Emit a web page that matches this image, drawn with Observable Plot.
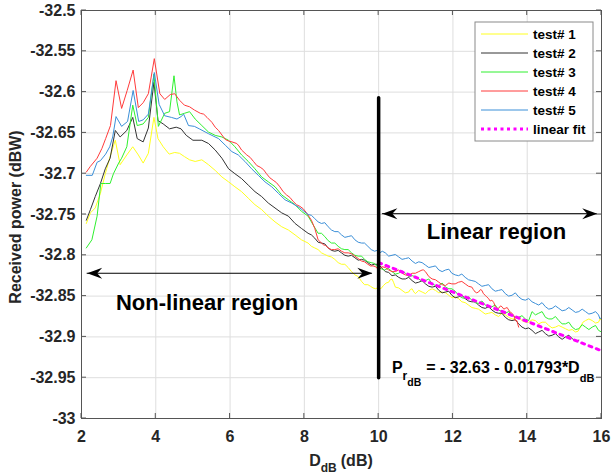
<!DOCTYPE html>
<html><head><meta charset="utf-8">
<script src="https://cdn.jsdelivr.net/npm/d3@7"></script>
<script src="https://cdn.jsdelivr.net/npm/@observablehq/plot@0.6"></script>
<style>
body{margin:0;background:#fff;font-family:"Liberation Sans",Arial,sans-serif;}
#chart{width:613px;height:474px;}
</style>
</head><body><div id="chart"></div>
<script>
const seriesNames = ["test# 1","test# 2","test# 3","test# 4","test# 5"];
const seriesColors = ["#ffff1f","#333333","#2ff02f","#ff3b3b","#3b8fd8"];
const fitColor = "#ff00ff";

const test1 = [[2.13,-32.761],[2.24,-32.748],[2.37,-32.742],[2.51,-32.724],[2.64,-32.700],[2.77,-32.679],[2.91,-32.659],[3.04,-32.689],[3.22,-32.677],[3.38,-32.667],[3.53,-32.677],[3.66,-32.687],[3.80,-32.675],[3.95,-32.631],[4.06,-32.657],[4.20,-32.667],[4.36,-32.676],[4.51,-32.674],[4.64,-32.675],[4.77,-32.679],[4.91,-32.683],[5.06,-32.685],[5.24,-32.683],[5.42,-32.689],[5.60,-32.696],[5.78,-32.704],[5.96,-32.710],[6.13,-32.716],[6.31,-32.722],[6.49,-32.730],[6.67,-32.738],[6.85,-32.744],[7.03,-32.752],[7.21,-32.759],[7.39,-32.765],[7.57,-32.769],[7.75,-32.775],[7.92,-32.781],[8.10,-32.785],[8.19,-32.789],[8.28,-32.791],[8.37,-32.793],[8.46,-32.797],[8.55,-32.799],[8.64,-32.801],[8.73,-32.802],[8.82,-32.805],[8.91,-32.809],[9.00,-32.811],[9.09,-32.811],[9.18,-32.815],[9.27,-32.820],[9.36,-32.824],[9.45,-32.826],[9.54,-32.832],[9.62,-32.836],[9.71,-32.836],[9.78,-32.838],[9.85,-32.840],[9.92,-32.841],[10.0,-32.839],[10.06,-32.841],[10.13,-32.837],[10.20,-32.834],[10.27,-32.833],[10.31,-32.830],[10.36,-32.829],[10.40,-32.833],[10.45,-32.839],[10.54,-32.840],[10.63,-32.843],[10.72,-32.846],[10.81,-32.845],[10.85,-32.842],[10.90,-32.841],[10.95,-32.845],[10.99,-32.847],[11.08,-32.843],[11.17,-32.845],[11.26,-32.847],[11.35,-32.843],[11.44,-32.841],[11.53,-32.843],[11.62,-32.846],[11.71,-32.845],[11.80,-32.846],[11.89,-32.849],[11.97,-32.852],[12.06,-32.851],[12.15,-32.853],[12.24,-32.857],[12.33,-32.858],[12.42,-32.861],[12.51,-32.864],[12.60,-32.865],[12.69,-32.866],[12.78,-32.869],[12.87,-32.872],[12.96,-32.871],[13.05,-32.870],[13.14,-32.873],[13.23,-32.875],[13.32,-32.871],[13.41,-32.873],[13.50,-32.876],[13.59,-32.878],[13.68,-32.878],[13.77,-32.876],[13.86,-32.880],[13.95,-32.882],[14.04,-32.882],[14.13,-32.879],[14.22,-32.880],[14.31,-32.884],[14.40,-32.882],[14.49,-32.882],[14.58,-32.886],[14.67,-32.889],[14.76,-32.888],[14.85,-32.886],[14.94,-32.888],[15.03,-32.890],[15.12,-32.892],[15.21,-32.891],[15.30,-32.894],[15.37,-32.893],[15.43,-32.888],[15.50,-32.882],[15.57,-32.880],[15.66,-32.878],[15.75,-32.880],[15.84,-32.883],[15.92,-32.882],[15.96,-32.878],[16.0,-32.880]];

const test2 = [[2.13,-32.757],[2.24,-32.744],[2.37,-32.728],[2.51,-32.712],[2.64,-32.694],[2.77,-32.681],[2.91,-32.647],[3.04,-32.655],[3.22,-32.647],[3.38,-32.631],[3.50,-32.657],[3.66,-32.661],[3.80,-32.644],[3.95,-32.588],[4.06,-32.635],[4.20,-32.639],[4.37,-32.645],[4.55,-32.643],[4.68,-32.645],[4.82,-32.653],[5.00,-32.659],[5.24,-32.659],[5.42,-32.663],[5.60,-32.671],[5.78,-32.681],[5.96,-32.694],[6.13,-32.700],[6.31,-32.706],[6.49,-32.714],[6.67,-32.722],[6.85,-32.728],[7.03,-32.736],[7.21,-32.742],[7.39,-32.748],[7.57,-32.752],[7.75,-32.761],[7.92,-32.767],[8.10,-32.773],[8.19,-32.775],[8.28,-32.779],[8.37,-32.784],[8.46,-32.785],[8.55,-32.786],[8.64,-32.791],[8.73,-32.794],[8.82,-32.795],[8.91,-32.794],[9.00,-32.797],[9.09,-32.800],[9.18,-32.801],[9.27,-32.800],[9.36,-32.803],[9.45,-32.806],[9.54,-32.805],[9.62,-32.806],[9.71,-32.809],[9.80,-32.812],[9.89,-32.811],[9.96,-32.811],[10.03,-32.813],[10.10,-32.816],[10.18,-32.820],[10.27,-32.821],[10.36,-32.825],[10.45,-32.824],[10.54,-32.827],[10.63,-32.829],[10.72,-32.829],[10.81,-32.827],[10.90,-32.831],[10.99,-32.834],[11.08,-32.833],[11.17,-32.831],[11.26,-32.835],[11.35,-32.838],[11.44,-32.839],[11.53,-32.838],[11.62,-32.843],[11.71,-32.846],[11.80,-32.845],[11.89,-32.844],[11.97,-32.849],[12.06,-32.852],[12.15,-32.851],[12.24,-32.849],[12.33,-32.853],[12.42,-32.856],[12.51,-32.857],[12.60,-32.857],[12.69,-32.861],[12.78,-32.864],[12.87,-32.865],[12.96,-32.863],[13.05,-32.867],[13.14,-32.870],[13.23,-32.871],[13.32,-32.871],[13.41,-32.876],[13.50,-32.879],[13.59,-32.880],[13.68,-32.879],[13.77,-32.884],[13.86,-32.888],[13.95,-32.890],[14.04,-32.889],[14.13,-32.892],[14.22,-32.896],[14.31,-32.894],[14.40,-32.892],[14.49,-32.896],[14.58,-32.899],[14.67,-32.898],[14.76,-32.896],[14.85,-32.900],[14.94,-32.903],[15.03,-32.900],[15.12,-32.898],[15.21,-32.902],[15.30,-32.905],[15.39,-32.904]];

const test3 = [[2.13,-32.791],[2.28,-32.781],[2.42,-32.752],[2.52,-32.712],[2.64,-32.712],[2.77,-32.712],[2.86,-32.700],[3.00,-32.687],[3.08,-32.681],[3.22,-32.667],[3.38,-32.616],[3.50,-32.641],[3.66,-32.639],[3.80,-32.631],[3.95,-32.578],[4.07,-32.642],[4.24,-32.626],[4.37,-32.624],[4.49,-32.580],[4.57,-32.612],[4.64,-32.628],[4.77,-32.626],[4.91,-32.624],[5.06,-32.633],[5.24,-32.641],[5.42,-32.649],[5.60,-32.653],[5.78,-32.655],[5.96,-32.659],[6.13,-32.667],[6.31,-32.677],[6.49,-32.685],[6.67,-32.694],[6.85,-32.704],[7.03,-32.710],[7.21,-32.716],[7.39,-32.726],[7.57,-32.732],[7.75,-32.738],[7.92,-32.746],[8.10,-32.752],[8.24,-32.763],[8.37,-32.773],[8.46,-32.773],[8.55,-32.777],[8.64,-32.782],[8.73,-32.785],[8.82,-32.785],[8.91,-32.789],[9.00,-32.792],[9.09,-32.793],[9.18,-32.793],[9.27,-32.797],[9.36,-32.800],[9.45,-32.801],[9.54,-32.801],[9.62,-32.805],[9.71,-32.808],[9.80,-32.809],[9.89,-32.810],[9.98,-32.815],[10.16,-32.818],[10.26,-32.816],[10.36,-32.820],[10.45,-32.823],[10.54,-32.822],[10.63,-32.819],[10.72,-32.822],[10.81,-32.826],[10.90,-32.825],[10.99,-32.826],[11.08,-32.829],[11.17,-32.832],[11.26,-32.831],[11.35,-32.829],[11.44,-32.835],[11.53,-32.837],[11.62,-32.837],[11.71,-32.834],[11.80,-32.839],[11.89,-32.841],[11.97,-32.841],[12.06,-32.844],[12.15,-32.849],[12.24,-32.852],[12.33,-32.853],[12.42,-32.851],[12.51,-32.855],[12.60,-32.858],[12.69,-32.859],[12.78,-32.856],[12.87,-32.861],[12.96,-32.864],[13.05,-32.863],[13.14,-32.861],[13.23,-32.867],[13.32,-32.869],[13.41,-32.871],[13.50,-32.869],[13.59,-32.873],[13.68,-32.876],[13.77,-32.876],[13.86,-32.874],[13.95,-32.878],[14.04,-32.880],[14.13,-32.869],[14.22,-32.873],[14.31,-32.871],[14.40,-32.869],[14.49,-32.876],[14.58,-32.878],[14.67,-32.878],[14.76,-32.875],[14.85,-32.880],[14.94,-32.884],[15.03,-32.884],[15.12,-32.882],[15.21,-32.888],[15.30,-32.891],[15.39,-32.890],[15.48,-32.885],[15.57,-32.888],[15.66,-32.891],[15.75,-32.888],[15.84,-32.886],[15.92,-32.892],[15.96,-32.893],[16.0,-32.894]];

const test4 = [[2.13,-32.698],[2.24,-32.691],[2.42,-32.681],[2.55,-32.669],[2.65,-32.657],[2.78,-32.641],[2.93,-32.586],[3.08,-32.620],[3.23,-32.598],[3.39,-32.573],[3.53,-32.619],[3.66,-32.613],[3.80,-32.602],[3.96,-32.559],[4.11,-32.602],[4.24,-32.609],[4.39,-32.603],[4.51,-32.602],[4.64,-32.610],[4.77,-32.616],[4.91,-32.618],[5.04,-32.622],[5.20,-32.626],[5.29,-32.627],[5.38,-32.631],[5.51,-32.637],[5.60,-32.643],[5.69,-32.647],[5.87,-32.658],[5.96,-32.660],[6.05,-32.661],[6.18,-32.663],[6.24,-32.666],[6.31,-32.671],[6.45,-32.677],[6.54,-32.680],[6.63,-32.685],[6.72,-32.690],[6.81,-32.692],[6.90,-32.695],[6.98,-32.700],[7.07,-32.705],[7.16,-32.708],[7.25,-32.711],[7.34,-32.716],[7.43,-32.722],[7.52,-32.726],[7.61,-32.729],[7.70,-32.734],[7.79,-32.738],[7.88,-32.740],[7.97,-32.743],[8.06,-32.748],[8.19,-32.757],[8.28,-32.767],[8.37,-32.781],[8.51,-32.787],[8.57,-32.788],[8.64,-32.791],[8.73,-32.793],[8.82,-32.793],[8.91,-32.792],[9.00,-32.795],[9.09,-32.797],[9.18,-32.797],[9.27,-32.798],[9.36,-32.801],[9.45,-32.804],[9.54,-32.807],[9.62,-32.808],[9.71,-32.811],[9.78,-32.813],[9.85,-32.813],[9.92,-32.814],[9.98,-32.817],[10.04,-32.816],[10.09,-32.814],[10.18,-32.815],[10.27,-32.818],[10.36,-32.820],[10.45,-32.820],[10.54,-32.818],[10.63,-32.822],[10.72,-32.824],[10.81,-32.825],[10.90,-32.822],[10.99,-32.822],[11.08,-32.820],[11.17,-32.818],[11.21,-32.818],[11.26,-32.820],[11.35,-32.826],[11.44,-32.829],[11.53,-32.830],[11.62,-32.833],[11.71,-32.836],[11.80,-32.837],[11.89,-32.834],[11.97,-32.835],[12.06,-32.835],[12.15,-32.833],[12.24,-32.832],[12.33,-32.835],[12.42,-32.838],[12.51,-32.839],[12.55,-32.842],[12.60,-32.845],[12.64,-32.846],[12.69,-32.845],[12.74,-32.842],[12.78,-32.843],[12.82,-32.847],[12.87,-32.849],[12.91,-32.851],[12.96,-32.853],[13.00,-32.856],[13.05,-32.855],[13.10,-32.858],[13.14,-32.863],[13.19,-32.865],[13.23,-32.865],[13.28,-32.862],[13.32,-32.863],[13.37,-32.866],[13.41,-32.865],[13.46,-32.864],[13.50,-32.867],[13.55,-32.870],[13.59,-32.871],[13.64,-32.874],[13.68,-32.880],[13.72,-32.880],[13.77,-32.888]];

const test5 = [[2.13,-32.702],[2.29,-32.702],[2.42,-32.686],[2.51,-32.684],[2.65,-32.676],[2.76,-32.667],[2.84,-32.655],[2.93,-32.630],[3.08,-32.642],[3.24,-32.636],[3.39,-32.598],[3.54,-32.636],[3.66,-32.634],[3.80,-32.627],[3.96,-32.576],[4.09,-32.615],[4.24,-32.629],[4.42,-32.631],[4.57,-32.633],[4.68,-32.630],[4.75,-32.627],[4.88,-32.641],[5.04,-32.642],[5.17,-32.645],[5.42,-32.651],[5.69,-32.657],[5.87,-32.665],[6.05,-32.673],[6.22,-32.677],[6.40,-32.685],[6.58,-32.694],[6.76,-32.702],[6.94,-32.710],[7.12,-32.716],[7.30,-32.724],[7.48,-32.732],[7.66,-32.736],[7.88,-32.742],[8.10,-32.750],[8.19,-32.751],[8.28,-32.755],[8.37,-32.759],[8.46,-32.761],[8.55,-32.760],[8.64,-32.765],[8.73,-32.769],[8.82,-32.771],[8.91,-32.771],[9.00,-32.775],[9.09,-32.778],[9.18,-32.777],[9.27,-32.776],[9.36,-32.781],[9.45,-32.784],[9.54,-32.785],[9.62,-32.785],[9.71,-32.789],[9.80,-32.793],[9.89,-32.795],[9.96,-32.794],[10.03,-32.797],[10.10,-32.795],[10.18,-32.797],[10.27,-32.801],[10.36,-32.800],[10.45,-32.799],[10.54,-32.802],[10.63,-32.805],[10.72,-32.804],[10.81,-32.803],[10.90,-32.807],[10.99,-32.810],[11.08,-32.808],[11.17,-32.809],[11.26,-32.812],[11.35,-32.815],[11.44,-32.814],[11.53,-32.813],[11.62,-32.818],[11.71,-32.820],[11.80,-32.818],[11.89,-32.817],[11.97,-32.822],[12.06,-32.824],[12.15,-32.825],[12.24,-32.823],[12.33,-32.827],[12.42,-32.830],[12.51,-32.831],[12.60,-32.832],[12.69,-32.835],[12.78,-32.838],[12.87,-32.837],[12.96,-32.836],[13.05,-32.841],[13.14,-32.844],[13.23,-32.843],[13.32,-32.842],[13.41,-32.847],[13.50,-32.850],[13.59,-32.849],[13.68,-32.846],[13.77,-32.851],[13.86,-32.854],[13.95,-32.855],[14.04,-32.853],[14.13,-32.857],[14.22,-32.859],[14.31,-32.861],[14.40,-32.858],[14.49,-32.863],[14.58,-32.866],[14.67,-32.865],[14.76,-32.862],[14.85,-32.865],[14.94,-32.868],[15.03,-32.867],[15.12,-32.864],[15.21,-32.867],[15.30,-32.870],[15.39,-32.869],[15.48,-32.866],[15.57,-32.869],[15.66,-32.872],[15.75,-32.871],[15.84,-32.869],[15.92,-32.873],[15.96,-32.878],[16.0,-32.876]];

const fitX = [10, 16];
const fitY = [-32.809, -32.917];
const boundaryX = [10, 10];
const boundaryY = [-32.607, -32.95];
const arrowY = [-32.749, -32.822];
const arrowX1 = [10.1, 2.153];
const arrowX2 = [15.885, 9.83];
const regionLabels = ["Linear region", "Non-linear region"];
const regionX = [13.17, 5.38];
const regionY = [-32.771, -32.8585];
const eqX = 10.37, eqY = -32.9445;
const xTicks = [2, 4, 6, 8, 10, 12, 14, 16];
const yTicks = [-33, -32.95, -32.9, -32.85, -32.8, -32.75, -32.7, -32.65, -32.6, -32.55, -32.5];

const seriesData = [test1, test2, test3, test4, test5].map(s => s.slice().sort((a, b) => a[0] - b[0]));
const fitData = fitX.map((x, i) => ({x, y: fitY[i]}));
const boundaryData = boundaryX.map((x, i) => ({x, y: boundaryY[i]}));
const arrows = arrowY.map((y, i) => ({y, x1: arrowX1[i], x2: arrowX2[i]}));
const heads = arrows.flatMap(a => [{x: a.x1, y: a.y, r: 180}, {x: a.x2, y: a.y, r: 0}]);
const labels = regionLabels.map((t, i) => ({t, x: regionX[i], y: regionY[i]}));

const arrowHead = {draw(ctx) { ctx.moveTo(0, 0); ctx.lineTo(-15, -5.5); ctx.lineTo(-10, 0); ctx.lineTo(-15, 5.5); ctx.closePath(); }};

const chart = Plot.plot({
  width: 613, height: 474,
  marginLeft: 81, marginRight: 12, marginTop: 10, marginBottom: 56,
  style: {fontFamily: "'Liberation Sans', Arial, sans-serif", fontSize: "16px", fontWeight: "bold", background: "#fff", color: "#262626"},
  x: {domain: [2, 16]},
  y: {domain: [-33, -32.5]},
  marks: [
    Plot.gridX(xTicks, {stroke: "#dedede", strokeOpacity: 1}),
    Plot.gridY(yTicks, {stroke: "#dedede", strokeOpacity: 1}),
    Plot.axisX(xTicks, {tickSize: 0, tickPadding: 12, tickFormat: d => String(d), label: null}),
    Plot.axisY(yTicks, {tickSize: 0, tickPadding: 6, tickFormat: d => String(d), label: null}),
    ...seriesData.map((s, i) => Plot.line(s, {x: d => d[0], y: d => d[1], stroke: seriesColors[i], strokeWidth: 1})),
    Plot.line(fitData, {x: "x", y: "y", stroke: fitColor, strokeWidth: 3, strokeDasharray: "3 4.8"}),
    Plot.line(boundaryData, {x: "x", y: "y", stroke: "#000", strokeWidth: 3.5}),
    Plot.ruleY(arrows, {y: "y", x1: "x1", x2: "x2", stroke: "#000", strokeWidth: 1}),
    Plot.dot(heads, {x: "x", y: "y", rotate: "r", symbol: arrowHead, fill: "#000", stroke: "none"}),
    Plot.text(labels, {x: "x", y: "y", text: "t", fontSize: 22, fontWeight: "bold", fill: "#000"}),
    Plot.frame({stroke: "#555", strokeWidth: 1})
  ]
});
document.getElementById("chart").appendChild(chart);

const svg = d3.select(chart);
const sx = chart.scale("x"), sy = chart.scale("y");
const x0 = sx.apply(2), x1 = sx.apply(16), y0 = sy.apply(-33), y1 = sy.apply(-32.5);
const tg = svg.append("g").attr("stroke", "#555").attr("stroke-width", 1);
xTicks.forEach(v => {
  const px = sx.apply(v);
  tg.append("line").attr("x1", px).attr("x2", px).attr("y1", y0).attr("y2", y0 - 5);
  tg.append("line").attr("x1", px).attr("x2", px).attr("y1", y1).attr("y2", y1 + 5);
});
yTicks.forEach(v => {
  const py = sy.apply(v);
  tg.append("line").attr("x1", x0).attr("x2", x0 + 5).attr("y1", py).attr("y2", py);
  tg.append("line").attr("x1", x1).attr("x2", x1 - 5).attr("y1", py).attr("y2", py);
});

// equation
const eq = svg.append("text").attr("x", sx.apply(eqX)).attr("y", sy.apply(eqY)).attr("text-anchor", "start")
  .attr("font-size", 16).attr("font-weight", "bold").attr("fill", "#000");
eq.append("tspan").text("P");
eq.append("tspan").attr("font-size", 12).attr("dy", 7).text("r");
eq.append("tspan").attr("font-size", 10.5).attr("dy", 6).text("dB");
eq.append("tspan").attr("font-size", 16).attr("dy", -13).attr("dx", 5).text("= - 32.63 - 0.01793*D");
eq.append("tspan").attr("font-size", 11).attr("dy", 9).text("dB");

// axis labels
const xl = svg.append("text").attr("x", (x0 + x1) / 2).attr("y", 465.5).attr("text-anchor", "middle")
  .attr("font-size", 16).attr("font-weight", "bold").attr("fill", "#262626");
xl.append("tspan").text("D");
xl.append("tspan").attr("font-size", 12).attr("dy", 6).text("dB");
xl.append("tspan").attr("dy", -6).attr("dx", 4).text("(dB)");
svg.append("text").attr("transform", `translate(21,${(y0 + y1) / 2 + 3}) rotate(-90)`).attr("text-anchor", "middle")
  .attr("font-size", 16).attr("font-weight", "bold").attr("fill", "#262626").text("Received power (dBW)");

// legend
const lg = svg.append("g");
lg.append("rect").attr("x", 475).attr("y", 22).attr("width", 118).attr("height", 119)
  .attr("fill", "#fff").attr("stroke", "#8a8a8a").attr("stroke-width", 1);
const legendNames = [...seriesNames, "linear fit"];
const legendColors = [...seriesColors, fitColor];
legendNames.forEach((n, i) => {
  const yy = 34 + i * 19;
  const ln = lg.append("line").attr("x1", 481).attr("x2", 528).attr("y1", yy).attr("y2", yy)
    .attr("stroke", legendColors[i]).attr("stroke-width", i === 5 ? 3 : 1);
  if (i === 5) ln.attr("stroke-dasharray", "3 3.5");
  lg.append("text").attr("x", 533).attr("y", yy).attr("dy", "0.35em").attr("text-anchor", "start")
    .attr("font-size", 13.5).attr("font-weight", "bold").attr("fill", "#000").text(n);
});
</script>
</body></html>
